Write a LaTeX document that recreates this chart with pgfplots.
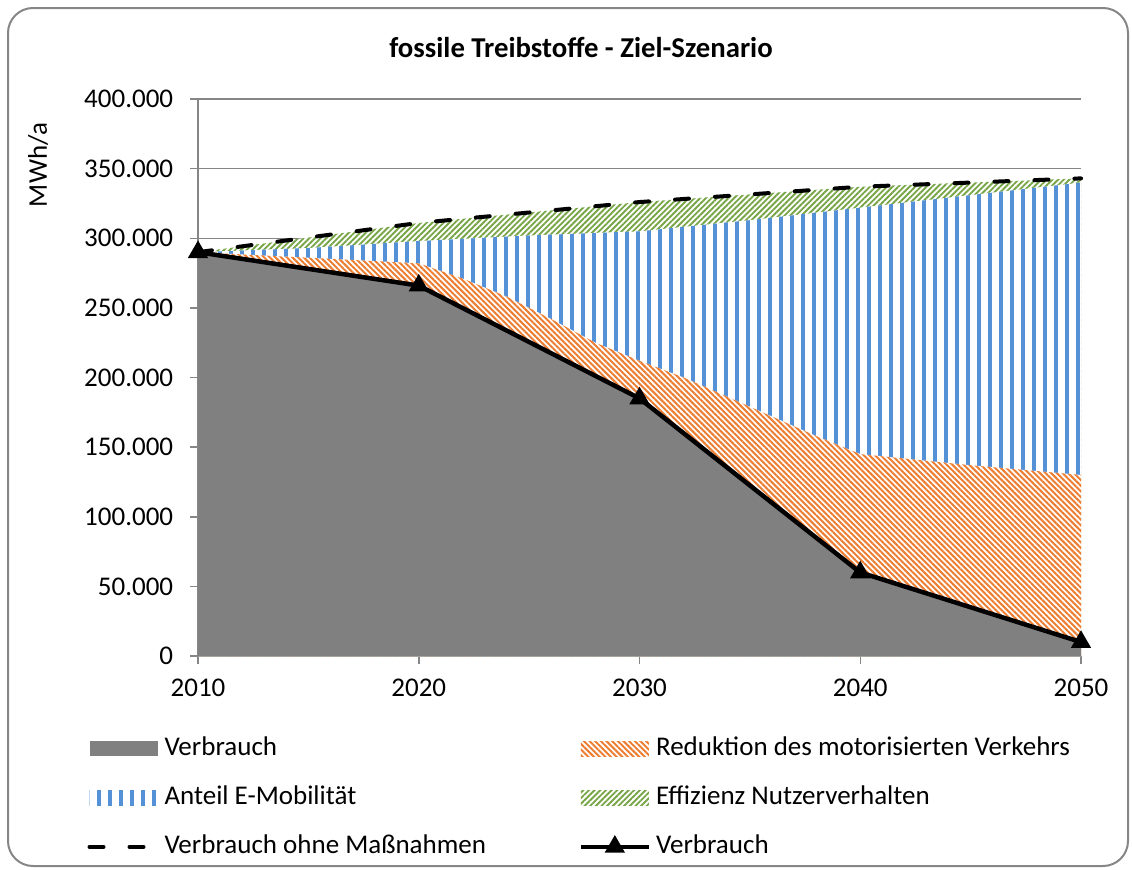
\documentclass[border=0pt]{standalone}
\usepackage{pgfplots}
\pgfplotsset{compat=1.18}
\usepackage{fontspec}
\setmainfont{Carlito}
\usetikzlibrary{patterns.meta}

\definecolor{axgray}{RGB}{134,134,134}
\definecolor{cgray}{RGB}{128,128,128}
\definecolor{corange}{RGB}{237,125,49}
\definecolor{cblue}{RGB}{85,145,215}
\definecolor{cgreen}{RGB}{120,165,70}

\pgfplotsset{
  arealeg/.style={legend image code/.code={\fill[##1] (0pt,-3pt) rectangle (27.2pt,3pt);}},
  lineleg/.style={legend image code/.code={\draw[##1,mark repeat=2,mark phase=2] plot coordinates {(0pt,0pt) (13.6pt,0pt) (27.2pt,0pt)};}},
  pOrange/.style={pattern={Lines[angle=-45,distance=1.6pt,line width=0.8pt]}, pattern color=corange},
  pBlue/.style={pattern={Lines[angle=90,distance=4.4pt,line width=1.4pt]}, pattern color=cblue},
  pGreen/.style={pattern={Lines[angle=45,distance=1.6pt,line width=0.75pt]}, pattern color=cgreen},
}

\begin{document}
\begin{tikzpicture}
\useasboundingbox (0,0) rectangle (452.8pt,-348pt);
\draw[axgray, line width=0.8pt, rounded corners=10pt] (3.2pt,-3.2pt) rectangle (451.2pt,-346.4pt);
\node[font=\bfseries\fontsize{11.5}{13}\selectfont] at (232.4pt,-19.2pt) {fossile Treibstoffe - Ziel-Szenario};
\node[rotate=90, font=\fontsize{10.8}{13}\selectfont] at (15.2pt,-66pt) {MWh/a};

\begin{axis}[
  at={(79.2pt,-262.4pt)}, anchor=south west,
  scale only axis, width=353.2pt, height=222.8pt,
  xmin=2010, xmax=2050, ymin=0, ymax=400000,
  xtick={2010,2020,2030,2040,2050},
  ytick={0,50000,100000,150000,200000,250000,300000,350000,400000},
  xticklabel style={yshift=-2.4pt, /pgf/number format/1000 sep={}},
  yticklabel style={xshift=-3.2pt, /pgf/number format/.cd, fixed, 1000 sep={.}},
  scaled y ticks=false,
  /pgf/number format/assume math mode=true,
  axis x line*=bottom, axis y line*=left,
  axis line style={draw=axgray, line width=0.6pt},
  ymajorgrids, grid style={draw=axgray, line width=0.6pt},
  tick style={draw=axgray, line width=0.6pt},
  tick align=outside, major tick length=3.2pt,
  ticklabel style={font=\fontsize{10.8}{13}\selectfont},
  clip=false,
  legend columns=2,
  legend cell align=left,
  legend style={at={(-0.1257,-0.141)}, anchor=north west, draw=none, fill=none,
    inner sep=0pt, row sep=8.6pt,
    nodes={inner sep=1pt, text height=7pt, text depth=2pt, font=\fontsize{10.8}{13}\selectfont},
    /tikz/every odd column/.append style={column sep=1pt},
    /tikz/every even column/.append style={column sep=36pt}},
]
% Effizienz Nutzerverhalten (top = Verbrauch ohne Massnahmen)
\addplot[draw=none, fill=white, forget plot] coordinates {
  (2010,290000) (2020,311000) (2030,326000) (2040,337000) (2050,343000)} \closedcycle;
\addplot[draw=none, pGreen, forget plot] coordinates {
  (2010,290000) (2020,311000) (2030,326000) (2040,337000) (2050,343000)} \closedcycle;
% Anteil E-Mobilitaet (top)
\addplot[draw=none, fill=white, forget plot] coordinates {
  (2010,290000) (2015,293000) (2020,298000) (2025,302000) (2030,305000)
  (2035,313000) (2040,322000) (2045,331000) (2050,340000)} \closedcycle;
\addplot[draw=none, pBlue, forget plot] coordinates {
  (2010,290000) (2015,293000) (2020,298000) (2025,302000) (2030,305000)
  (2035,313000) (2040,322000) (2045,331000) (2050,340000)} \closedcycle;
% Reduktion des motorisierten Verkehrs (top)
\addplot[draw=none, fill=white, forget plot] coordinates {
  (2010,290000) (2020,282000) (2022,271000) (2024,258000) (2026,242000)
  (2028,225000) (2030,212000) (2032,200000) (2034,186000) (2036,172000)
  (2038,158000) (2040,145000) (2045,137000) (2050,130000)} \closedcycle;
\addplot[draw=none, pOrange, forget plot] coordinates {
  (2010,290000) (2020,282000) (2022,271000) (2024,258000) (2026,242000)
  (2028,225000) (2030,212000) (2032,200000) (2034,186000) (2036,172000)
  (2038,158000) (2040,145000) (2045,137000) (2050,130000)} \closedcycle;
% Verbrauch (Flaeche)
\addplot[draw=none, fill=cgray, forget plot] coordinates {
  (2010,290000) (2020,266000) (2030,185000) (2040,60000) (2050,10000)} \closedcycle;
% Verbrauch ohne Massnahmen
\addplot[black, line width=1.6pt, line cap=round, dash pattern=on 5.6pt off 10.4pt, forget plot] coordinates {
  (2010,290000) (2020,311000) (2030,326000) (2040,337000) (2050,343000)};
% Verbrauch (Linie)
\addplot[black, line width=1.8pt, mark=triangle*, mark size=2.9pt, mark options={solid}, forget plot] coordinates {
  (2010,290000) (2020,266000) (2030,185000) (2040,60000) (2050,10000)};

\addlegendimage{arealeg, fill=cgray, draw=none}
\addlegendentry{Verbrauch}
\addlegendimage{arealeg, pOrange, draw=none}
\addlegendentry{Reduktion des motorisierten Verkehrs}
\addlegendimage{arealeg, pBlue, draw=none}
\addlegendentry{Anteil E-Mobilität}
\addlegendimage{arealeg, pGreen, draw=none}
\addlegendentry{Effizienz Nutzerverhalten}
\addlegendimage{lineleg, black, line width=1.6pt, line cap=round, dash pattern=on 5.6pt off 10.4pt}
\addlegendentry{Verbrauch ohne Maßnahmen}
\addlegendimage{lineleg, black, line width=1.8pt, mark=triangle*, mark size=2.9pt, mark options={solid}}
\addlegendentry{Verbrauch}
\end{axis}
\end{tikzpicture}
\end{document}
